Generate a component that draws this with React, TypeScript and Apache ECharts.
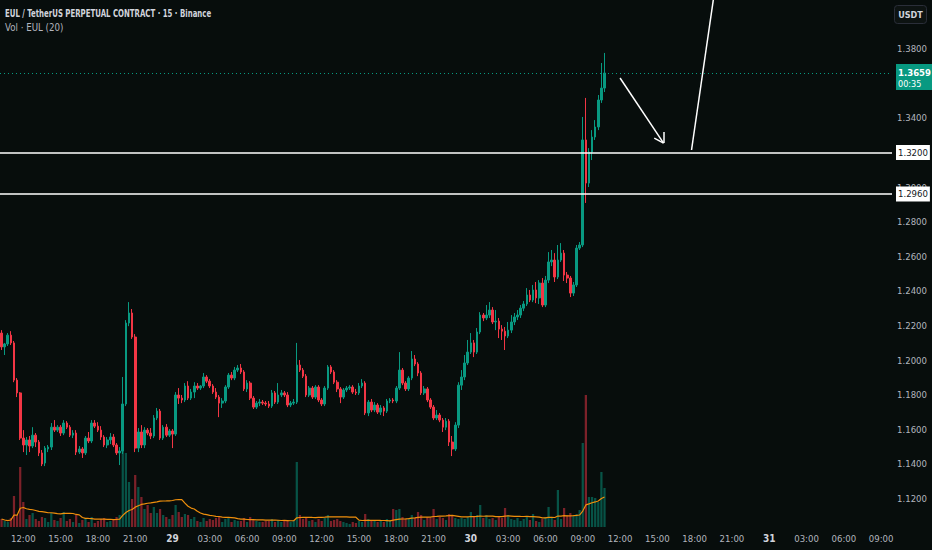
import React, { useEffect, useRef } from "react";
import * as echarts from "echarts";

const FONT = "'Liberation Sans Narrow', 'DejaVu Sans Condensed', 'Liberation Sans', sans-serif";

// time axis: 15-minute slots starting on the 28th at 10:15
const START_DAY = 28;
const START_MIN = 10 * 60 + 15;
const SLOT_COUNT = 287;

// price scale labels (1.3600 and 1.3200 sit under the price boxes)
const priceTicks = [1.12, 1.14, 1.16, 1.18, 1.2, 1.22, 1.24, 1.26, 1.28, 1.3, 1.34, 1.38];

const titleText = "EUL / TetherUS PERPETUAL CONTRACT · 15 · Binance";
const subTitleText = "Vol · EUL (20)";

// [open, close, low, high]
const candles: number[][] = [
  [1.2156, 1.2076, 1.2058, 1.2173], [1.2076, 1.2093, 1.2029, 1.2099], [1.2093, 1.2144, 1.2081, 1.2156], [1.2144, 1.2099, 1.2087, 1.2167],
  [1.2099, 1.1884, 1.1872, 1.211], [1.1884, 1.181, 1.1786, 1.1896], [1.181, 1.1549, 1.1538, 1.1815], [1.1549, 1.1509, 1.1468, 1.1595],
  [1.1509, 1.1538, 1.1451, 1.1555], [1.1538, 1.1503, 1.1468, 1.1561], [1.1503, 1.1566, 1.1491, 1.1612], [1.1566, 1.1526, 1.1497, 1.1578],
  [1.1526, 1.1463, 1.1445, 1.1538], [1.1463, 1.1399, 1.1387, 1.148], [1.1405, 1.1491, 1.1387, 1.1503], [1.1486, 1.1497, 1.1468, 1.1509],
  [1.1497, 1.1612, 1.148, 1.1636], [1.1612, 1.1595, 1.1584, 1.1653], [1.1595, 1.1612, 1.1584, 1.1624], [1.1612, 1.1578, 1.1561, 1.1624],
  [1.1578, 1.1636, 1.1566, 1.1653], [1.1636, 1.1612, 1.1601, 1.1647], [1.1612, 1.1566, 1.1555, 1.1624], [1.1566, 1.1578, 1.1549, 1.1595],
  [1.1578, 1.1468, 1.1451, 1.1595], [1.1468, 1.1486, 1.1457, 1.1503], [1.1486, 1.1463, 1.1434, 1.1497], [1.1463, 1.1549, 1.1451, 1.1561],
  [1.1549, 1.1532, 1.152, 1.1584], [1.1532, 1.1636, 1.152, 1.1653], [1.1636, 1.1618, 1.1607, 1.1653], [1.1618, 1.1595, 1.1584, 1.1641],
  [1.1595, 1.1555, 1.1538, 1.1618], [1.1555, 1.1509, 1.1497, 1.1566], [1.1509, 1.1538, 1.1491, 1.1555], [1.1538, 1.1555, 1.1514, 1.1578],
  [1.1555, 1.1509, 1.1497, 1.1572], [1.1509, 1.1463, 1.1451, 1.152], [1.1463, 1.1474, 1.1393, 1.1497], [1.1474, 1.1746, 1.1457, 1.1902],
  [1.1746, 1.2214, 1.1734, 1.2231], [1.2214, 1.2272, 1.2196, 1.2335], [1.2272, 1.2133, 1.2122, 1.2295], [1.2133, 1.1491, 1.1468, 1.215],
  [1.1491, 1.1584, 1.1468, 1.1607], [1.1584, 1.1509, 1.1491, 1.1624], [1.1509, 1.1595, 1.1491, 1.1612], [1.1595, 1.1578, 1.1566, 1.1607],
  [1.1578, 1.1561, 1.1543, 1.1607], [1.1561, 1.1665, 1.1549, 1.1682], [1.1665, 1.1705, 1.1653, 1.1723], [1.1705, 1.1549, 1.1538, 1.1717],
  [1.1549, 1.1612, 1.1538, 1.1624], [1.1612, 1.1566, 1.1555, 1.163], [1.1566, 1.159, 1.1555, 1.1601], [1.159, 1.1572, 1.1491, 1.1601],
  [1.1572, 1.1798, 1.1561, 1.1815], [1.1798, 1.178, 1.1746, 1.1838], [1.178, 1.1769, 1.1751, 1.1798], [1.1769, 1.185, 1.1757, 1.1867],
  [1.185, 1.178, 1.1769, 1.1878], [1.178, 1.1815, 1.1769, 1.1833], [1.1815, 1.185, 1.178, 1.1872], [1.185, 1.1838, 1.1827, 1.1867],
  [1.1838, 1.185, 1.1827, 1.1855], [1.185, 1.1902, 1.1838, 1.1925], [1.1902, 1.1878, 1.1867, 1.1913], [1.1878, 1.185, 1.1838, 1.189],
  [1.185, 1.1815, 1.1804, 1.1861], [1.1815, 1.1786, 1.1775, 1.1838], [1.1786, 1.1751, 1.167, 1.1798], [1.1751, 1.1763, 1.1723, 1.178],
  [1.1763, 1.1844, 1.1751, 1.1855], [1.1844, 1.1913, 1.1833, 1.1925], [1.1913, 1.1896, 1.1884, 1.1931], [1.1896, 1.1942, 1.1884, 1.196],
  [1.1942, 1.1954, 1.1931, 1.1971], [1.1954, 1.1931, 1.1919, 1.1977], [1.1931, 1.1833, 1.1821, 1.1942], [1.1833, 1.1867, 1.1815, 1.1884],
  [1.1867, 1.178, 1.1769, 1.1878], [1.178, 1.1728, 1.1717, 1.1792], [1.1728, 1.1751, 1.1717, 1.1763], [1.1751, 1.1757, 1.1734, 1.1775],
  [1.1757, 1.1751, 1.174, 1.1769], [1.1751, 1.1746, 1.1734, 1.1763], [1.1746, 1.1734, 1.1723, 1.1763], [1.1734, 1.181, 1.1723, 1.1827],
  [1.181, 1.1757, 1.1746, 1.1821], [1.1757, 1.1798, 1.1746, 1.1867], [1.1798, 1.181, 1.1786, 1.1827], [1.181, 1.1798, 1.1786, 1.1821],
  [1.1798, 1.174, 1.1728, 1.1815], [1.174, 1.1751, 1.1728, 1.1763], [1.1751, 1.1757, 1.174, 1.1775], [1.1757, 1.1971, 1.1746, 1.2099],
  [1.1971, 1.1942, 1.1931, 1.2], [1.1942, 1.1907, 1.1896, 1.1954], [1.1907, 1.1798, 1.1786, 1.1919], [1.1798, 1.1838, 1.1786, 1.185],
  [1.1838, 1.1786, 1.1775, 1.185], [1.1786, 1.1844, 1.1775, 1.1855], [1.1844, 1.1769, 1.1757, 1.1855], [1.1769, 1.1746, 1.1734, 1.178],
  [1.1746, 1.1838, 1.1734, 1.185], [1.1838, 1.196, 1.1827, 1.1971], [1.196, 1.1931, 1.1919, 1.1971], [1.1931, 1.1872, 1.1861, 1.1942],
  [1.1872, 1.1833, 1.1815, 1.1884], [1.1833, 1.1786, 1.1751, 1.1844], [1.1786, 1.1827, 1.1775, 1.1838], [1.1827, 1.1838, 1.1815, 1.185],
  [1.1838, 1.1844, 1.1827, 1.1855], [1.1844, 1.1815, 1.1804, 1.1855], [1.1815, 1.181, 1.1798, 1.1833], [1.181, 1.185, 1.1798, 1.1867],
  [1.185, 1.1867, 1.1838, 1.189], [1.1867, 1.1694, 1.1682, 1.1878], [1.1694, 1.1757, 1.1676, 1.1769], [1.1757, 1.1711, 1.1699, 1.1775],
  [1.1711, 1.174, 1.1699, 1.1757], [1.174, 1.1699, 1.1688, 1.1751], [1.1699, 1.1723, 1.1682, 1.174], [1.1723, 1.1705, 1.1676, 1.1734],
  [1.1705, 1.1763, 1.1694, 1.1775], [1.1763, 1.1769, 1.1751, 1.178], [1.1769, 1.1763, 1.1751, 1.178], [1.1763, 1.1838, 1.1751, 1.185],
  [1.1838, 1.1942, 1.1827, 1.2046], [1.1942, 1.1867, 1.1855, 1.1954], [1.1867, 1.1833, 1.1821, 1.1878], [1.1833, 1.1896, 1.1821, 1.1907],
  [1.1896, 1.2006, 1.1884, 1.2052], [1.2006, 1.1977, 1.1965, 1.2029], [1.1977, 1.1925, 1.1907, 1.1988], [1.1925, 1.181, 1.1798, 1.1936],
  [1.181, 1.1833, 1.1798, 1.185], [1.1833, 1.1769, 1.1757, 1.1844], [1.1769, 1.1728, 1.1717, 1.178], [1.1728, 1.1665, 1.1653, 1.174],
  [1.1665, 1.1682, 1.1653, 1.1711], [1.1682, 1.1653, 1.1641, 1.1694], [1.1653, 1.1612, 1.1584, 1.1665], [1.1612, 1.1647, 1.1595, 1.1665],
  [1.1647, 1.1526, 1.1503, 1.1659], [1.1526, 1.1486, 1.1445, 1.1561], [1.1486, 1.1624, 1.1474, 1.1641], [1.1624, 1.1855, 1.1607, 1.1872],
  [1.1855, 1.1902, 1.1827, 1.1942], [1.1902, 1.1983, 1.1884, 1.2029], [1.1983, 1.2046, 1.1971, 1.2116], [1.2046, 1.2099, 1.2035, 1.2156],
  [1.2099, 1.2046, 1.2017, 1.2116], [1.2046, 1.2162, 1.2035, 1.2185], [1.2162, 1.226, 1.215, 1.2277], [1.226, 1.2243, 1.2225, 1.2272],
  [1.2243, 1.226, 1.2231, 1.2318], [1.226, 1.2289, 1.2243, 1.2335], [1.2289, 1.222, 1.2208, 1.2306], [1.222, 1.2225, 1.2173, 1.2289],
  [1.2225, 1.2179, 1.2127, 1.2243], [1.2179, 1.2167, 1.2116, 1.2202], [1.2167, 1.2139, 1.2058, 1.2191], [1.2139, 1.2173, 1.2127, 1.222],
  [1.2173, 1.222, 1.2156, 1.226], [1.222, 1.2249, 1.2202, 1.2272], [1.2249, 1.226, 1.2231, 1.2289], [1.226, 1.23, 1.2243, 1.2318],
  [1.23, 1.2324, 1.2283, 1.2341], [1.2324, 1.2376, 1.2312, 1.2416], [1.2376, 1.2347, 1.2335, 1.2405], [1.2347, 1.2405, 1.2335, 1.2434],
  [1.2405, 1.2359, 1.2329, 1.2451], [1.2359, 1.2445, 1.2324, 1.2462], [1.2445, 1.2318, 1.2306, 1.2474], [1.2318, 1.2462, 1.2306, 1.2486],
  [1.2462, 1.2567, 1.2445, 1.2624], [1.2567, 1.2578, 1.2543, 1.2636], [1.2578, 1.248, 1.2451, 1.2618], [1.248, 1.2578, 1.2468, 1.2665],
  [1.2578, 1.2618, 1.2567, 1.2676], [1.2618, 1.2491, 1.2457, 1.2636], [1.2491, 1.2474, 1.2445, 1.2509], [1.2474, 1.2387, 1.2364, 1.2486],
  [1.2387, 1.2434, 1.237, 1.2451], [1.2434, 1.2647, 1.2422, 1.2665], [1.2647, 1.2665, 1.2636, 1.2682], [1.2665, 1.3272, 1.2653, 1.3405],
  [1.3272, 1.3023, 1.2908, 1.3515], [1.3023, 1.3202, 1.3, 1.3225], [1.3202, 1.3289, 1.3156, 1.3329], [1.3289, 1.3347, 1.3272, 1.3387],
  [1.3347, 1.3503, 1.3329, 1.3532], [1.3503, 1.3572, 1.3486, 1.3717], [1.3572, 1.3659, 1.3549, 1.3775],
];

// volume per candle (thousand EUL)
const volumes: number[] = [
  8, 6, 5, 9, 31, 12, 60, 25, 8, 12,
  14, 8, 6, 10, 9, 5, 14, 7, 6, 9,
  15, 6, 8, 5, 12, 4, 7, 9, 5, 10,
  4, 6, 8, 9, 5, 6, 7, 10, 12, 84,
  74, 45, 28, 52, 40, 30, 18, 22, 14, 20,
  14, 18, 12, 10, 8, 12, 22, 15, 10, 13,
  12, 8, 10, 6, 5, 9, 6, 8, 7, 9,
  10, 5, 8, 9, 5, 7, 6, 6, 9, 5,
  10, 7, 6, 5, 5, 6, 6, 8, 5, 7,
  5, 6, 6, 5, 6, 65, 12, 8, 10, 6,
  7, 5, 8, 6, 9, 12, 6, 7, 8, 6,
  5, 4, 3, 5, 4, 6, 5, 13, 8, 6,
  7, 5, 6, 5, 8, 7, 18, 17, 18, 10,
  8, 9, 12, 9, 15, 12, 7, 10, 9, 18,
  8, 10, 9, 7, 13, 12, 9, 8, 9, 8,
  10, 15, 10, 12, 22, 9, 12, 8, 9, 7,
  10, 9, 19, 12, 8, 7, 9, 6, 8, 10,
  7, 13, 6, 5, 8, 10, 20, 9, 7, 37,
  8, 19, 12, 14, 11, 13, 17, 84, 132, 30,
  30, 29, 25, 55, 39,
];

const VOL_MA_LENGTH = 20;
const levelLines = [1.32, 1.296];
const lastPrice = 1.3659;
const countdown = "00:35";

// drawn arrows: [slot index, price]
const arrowDown = [[199.0, 1.363], [212.8, 1.3254]];
const arrowHeadA = [[212.8, 1.3254], [212.6, 1.3318]];
const arrowHeadB = [[212.8, 1.3254], [209.7, 1.3283]];
const arrowUp = [[221.8, 1.3214], [229.2, 1.4081]];

const UP = "#089981";
const DOWN = "#f23645";

function buildCategories(): string[] {
  const out: string[] = [];
  for (let i = 0; i < SLOT_COUNT; i++) {
    const t = START_MIN + 15 * i;
    const day = START_DAY + Math.floor(t / 1440);
    const m = t % 1440;
    const hh = String(Math.floor(m / 60)).padStart(2, "0");
    const mm = String(m % 60).padStart(2, "0");
    out.push(`${day} ${hh}:${mm}`);
  }
  return out;
}

function movingAverage(vals: number[], n: number): number[] {
  return vals.map((_, i) => {
    const from = Math.max(0, i - n + 1);
    const slice = vals.slice(from, i + 1);
    return slice.reduce((a, b) => a + b, 0) / slice.length;
  });
}

export default function App() {
  const ref = useRef<HTMLDivElement>(null);

  useEffect(() => {
    if (!ref.current) return;
    const chart = echarts.init(ref.current, undefined, { renderer: "svg" });
    const categories = buildCategories();
    const volMA = movingAverage(volumes, VOL_MA_LENGTH);

    const drawn = (pts: number[][]) =>
      [{ coord: pts[0] }, { coord: pts[1] }].map((p) => ({
        ...p,
        lineStyle: { color: "#ffffff", width: 1.5, type: "solid" },
        label: { show: false },
      }));

    const levelLabel = (v: number) => ({
      show: true,
      position: "end",
      distance: 4,
      formatter: v.toFixed(4),
      backgroundColor: "#ffffff",
      color: "#131722",
      padding: [3, 2, 2, 2],
      fontSize: 9.5,
      fontFamily: FONT,
    });

    const option: any = {
      animation: false,
      backgroundColor: "#070d0c",
      textStyle: { fontFamily: FONT },
      grid: [
        { left: 0, right: 40, top: 0, bottom: 23 },
        { left: 0, right: 40, bottom: 23, height: 200 },
      ],
      xAxis: [
        {
          type: "category",
          gridIndex: 0,
          data: categories,
          boundaryGap: true,
          axisLine: { show: false },
          axisTick: { show: false },
          splitLine: { show: false },
          axisLabel: {
            color: "#b2b5be",
            fontSize: 9.5,
            fontFamily: FONT,
            margin: 6,
            hideOverlap: false,
            interval: (_idx: number, value: string) => {
              const hm = value.split(" ")[1];
              const [h, m] = hm.split(":").map(Number);
              return m === 0 && h % 3 === 0;
            },
            formatter: (value: string) => {
              const [d, hm] = value.split(" ");
              return hm === "00:00" ? `{day|${d}}` : hm;
            },
            rich: { day: { fontWeight: "bold", color: "#d1d4dc", fontSize: 10, fontFamily: FONT } },
          },
        },
        {
          type: "category",
          gridIndex: 1,
          data: categories,
          boundaryGap: true,
          show: false,
        },
      ],
      yAxis: [
        {
          type: "value",
          gridIndex: 0,
          position: "right",
          min: 1.1035,
          max: 1.4081,
          scale: true,
          axisLine: { show: false },
          axisTick: { show: false },
          splitLine: { show: false },
          axisLabel: {
            customValues: priceTicks,
            color: "#b2b5be",
            fontSize: 9.5,
            fontFamily: FONT,
            align: "center",
            margin: 20,
            formatter: (v: number) => v.toFixed(4),
          },
        },
        { type: "value", gridIndex: 1, min: 0, max: 200, show: false },
      ],
      graphic: [
        {
          type: "text",
          x: 5,
          y: 8,
          scaleX: 0.74,
          style: { text: titleText, fill: "#d1d4dc", fontSize: 10.5, fontWeight: "bold", fontFamily: FONT, verticalAlign: "top" },
        },
        {
          type: "text",
          x: 5,
          y: 22,
          scaleX: 0.92,
          style: { text: subTitleText, fill: "#b2b5be", fontSize: 10.5, fontFamily: FONT, verticalAlign: "top" },
        },
        {
          type: "group",
          right: 5,
          top: 5,
          children: [
            { type: "rect", shape: { x: 0, y: 0, width: 32, height: 18, r: 3 }, style: { fill: "#0d1312", stroke: "#2a2e39", lineWidth: 1 } },
            { type: "text", x: 16, y: 9, style: { text: "USDT", fill: "#d1d4dc", fontSize: 9, fontWeight: "bold", fontFamily: FONT, align: "center", verticalAlign: "middle" } },
          ],
        },
      ],
      series: [
        {
          name: "Volume",
          type: "bar",
          xAxisIndex: 1,
          yAxisIndex: 1,
          barWidth: "72%",
          z: 1,
          silent: true,
          data: volumes.map((v, i) => ({
            value: v,
            itemStyle: { color: candles[i][1] >= candles[i][0] ? "rgba(8,153,129,0.5)" : "rgba(242,54,69,0.5)" },
          })),
        },
        {
          name: "Vol MA",
          type: "line",
          xAxisIndex: 1,
          yAxisIndex: 1,
          data: volMA,
          showSymbol: false,
          symbol: "none",
          z: 2,
          silent: true,
          lineStyle: { color: "#ef8f0c", width: 1.2 },
        },
        {
          name: "EUL",
          type: "candlestick",
          xAxisIndex: 0,
          yAxisIndex: 0,
          barWidth: "68%",
          z: 3,
          data: candles,
          itemStyle: { color: UP, color0: DOWN, borderColor: UP, borderColor0: DOWN, borderWidth: 1 },
          markLine: {
            silent: true,
            symbol: ["none", "none"],
            precision: 4,
            animation: false,
            data: [
              {
                yAxis: levelLines[0],
                lineStyle: { color: "#ffffff", width: 1.6, type: "solid" },
                label: levelLabel(levelLines[0]),
              },
              {
                yAxis: levelLines[1],
                lineStyle: { color: "#ffffff", width: 1.6, type: "solid" },
                label: levelLabel(levelLines[1]),
              },
              {
                yAxis: lastPrice,
                lineStyle: { color: UP, width: 1, type: [1, 3] },
                label: {
                  show: true,
                  position: "end",
                  distance: 4,
                  offset: [0, 4],
                  formatter: `{a|${lastPrice.toFixed(4)}}\n{b|${countdown}}`,
                  backgroundColor: UP,
                  padding: [2, 2, 1, 2],
                  rich: {
                    a: { color: "#ffffff", fontSize: 9.5, fontWeight: "bold", lineHeight: 12, fontFamily: FONT },
                    b: { color: "#ffffff", fontSize: 9, lineHeight: 11, fontFamily: FONT },
                  },
                },
              },
              drawn(arrowDown),
              drawn(arrowHeadA),
              drawn(arrowHeadB),
              drawn(arrowUp),
            ],
          },
        },
      ],
    };

    chart.setOption(option);
    return () => chart.dispose();
  }, []);

  return (
    <div
      ref={ref}
      style={{ position: "fixed", left: 0, top: 0, width: 932, height: 550 }}
    />
  );
}
